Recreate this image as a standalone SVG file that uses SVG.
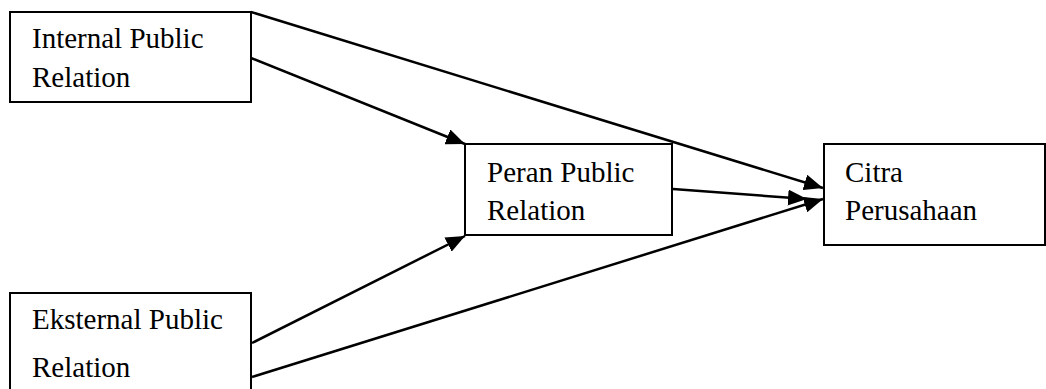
<svg xmlns="http://www.w3.org/2000/svg" width="1046" height="389" viewBox="0 0 1046 389">
<style>
.box{fill:#fff;stroke:#000;stroke-width:2}
.t{font-family:"Liberation Serif","Times New Roman",serif;font-size:29px;fill:#000}
.c{stroke:#000;stroke-width:2.5;fill:none;marker-end:url(#ah)}
</style>
<defs>
<marker id="ah" markerUnits="userSpaceOnUse" markerWidth="20" markerHeight="16" refX="19" refY="8" orient="auto">
<path d="M0,0 L19,8 L0,16 Z" fill="#000"/>
</marker>
</defs>
<rect width="1046" height="389" fill="#fff"/>
<g id="n1"><rect class="box" x="10" y="12" width="241" height="90"/>
<text class="t" x="32" y="48">Internal Public</text><text class="t" x="32" y="87">Relation</text></g>
<g id="n2"><rect class="box" x="465" y="144" width="207" height="91"/>
<text class="t" x="487" y="182">Peran Public</text><text class="t" x="487" y="220">Relation</text></g>
<g id="n3"><rect class="box" x="10" y="293" width="241" height="100"/>
<text class="t" x="32" y="329">Eksternal Public</text><text class="t" x="32" y="377">Relation</text></g>
<g id="n4"><rect class="box" x="824" y="144" width="221" height="101"/>
<text class="t" x="845" y="182">Citra</text><text class="t" x="845" y="220">Perusahaan</text></g>
<g id="connectors">
<line class="c" x1="251" y1="12" x2="823" y2="188"/>
<line class="c" x1="251" y1="58" x2="465" y2="144"/>
<line class="c" x1="673" y1="189" x2="807" y2="199"/>
<line class="c" x1="252" y1="343" x2="465" y2="236"/>
<line class="c" x1="252" y1="377" x2="823" y2="199"/>
</g>
</svg>
